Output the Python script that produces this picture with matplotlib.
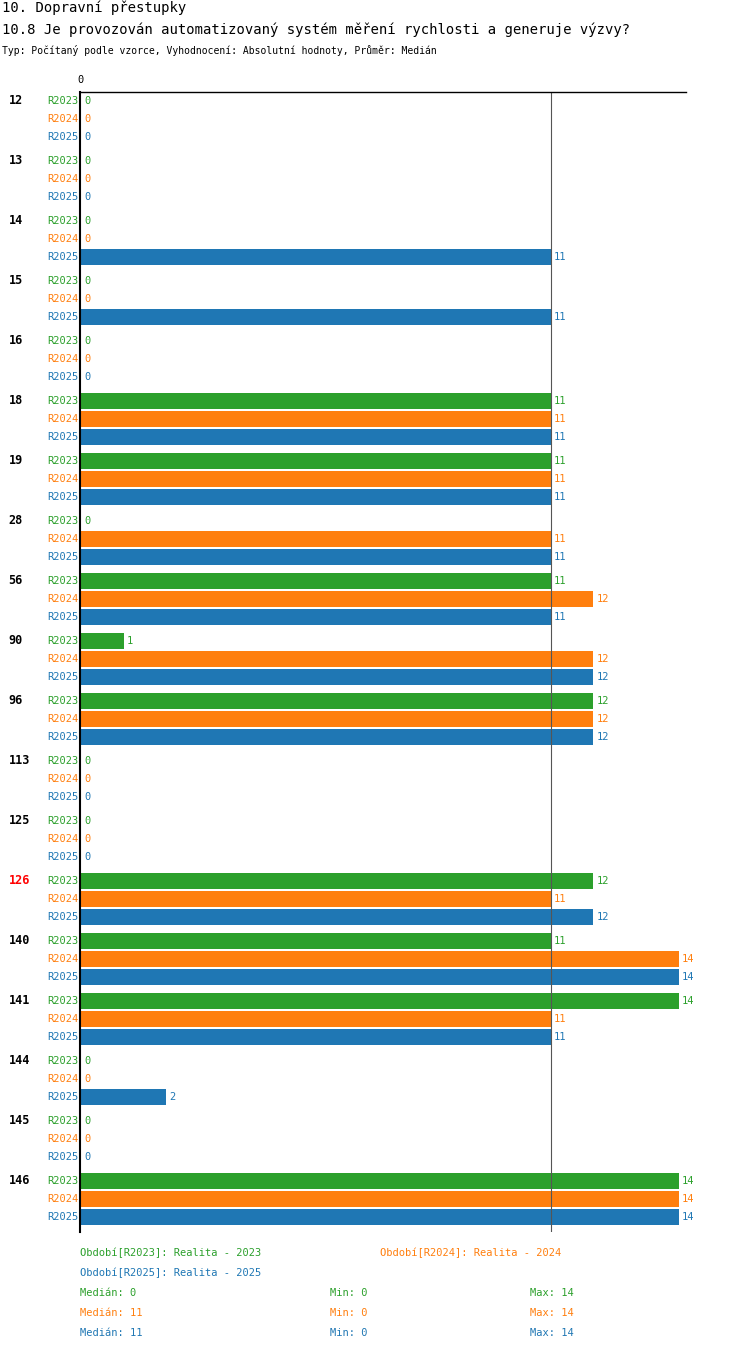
import matplotlib
matplotlib.use("Agg")
import matplotlib.pyplot as plt

plt.rcParams['font.family'] = ['DejaVu Sans Mono']

groups = ["12", "13", "14", "15", "16", "18", "19", "28", "56", "90", "96",
          "113", "125", "126", "140", "141", "144", "145", "146"]
series = ["R2023", "R2024", "R2025"]
colors = ["#2ca02c", "#ff7f0e", "#1f77b4"]
r2023 = [0, 0, 0, 0, 0, 11, 11, 0, 11, 1, 12, 0, 0, 12, 11, 14, 0, 0, 14]
r2024 = [0, 0, 0, 0, 0, 11, 11, 11, 12, 12, 12, 0, 0, 11, 14, 11, 0, 0, 14]
r2025 = [0, 0, 11, 11, 0, 11, 11, 11, 11, 12, 12, 0, 0, 12, 14, 11, 2, 0, 14]
values = [r2023, r2024, r2025]
highlight = "126"
median_line = 11

W, H = 750, 1352
fig = plt.figure(figsize=(W / 100, H / 100), dpi=100)
ax_left, ax_right, ax_top, ax_bot = 80, 686, 92, 1232
ax = fig.add_axes([ax_left / W, 1 - ax_bot / H, (ax_right - ax_left) / W, (ax_bot - ax_top) / H])
ax.set_xlim(-1 / 42.7, (ax_right - ax_left - 1) / 42.7)
ax.set_ylim(ax_bot - 101, ax_top - 101)

for g, name in enumerate(groups):
    for k in range(3):
        y = g * 60 + k * 18
        v = values[k][g]
        if v > 0:
            ax.barh(y, v, height=16, color=colors[k], left=0)
        ax.text(v + 0.07, y, str(v), color=colors[k], fontsize=7.5, va='center', ha='left')
        ax.text(-0.07, y, series[k], color=colors[k], fontsize=7.5, va='center', ha='right')
    ax.text(-1.7, g * 60, name, fontsize=8.5, weight='bold', va='center', ha='left',
            color='red' if name == highlight else 'black')

ax.axvline(median_line, color='#555555', lw=0.8)
for s in ['right', 'bottom']:
    ax.spines[s].set_visible(False)
ax.spines['left'].set_linewidth(1.5)
ax.spines['top'].set_linewidth(1)
ax.set_xticks([])
ax.set_yticks([])
fig.text(80 / W, 1 - 80 / H, "0", fontsize=7.5, ha='center', va='center')

fig.text(2 / W, 1 - 8 / H, "10. Dopravní přestupky", fontsize=10, va='center')
fig.text(2 / W, 1 - 30 / H, "10.8 Je provozován automatizovaný systém měření rychlosti a generuje výzvy?",
         fontsize=10, va='center')
fig.text(2 / W, 1 - 50 / H, "Typ: Počítaný podle vzorce, Vyhodnocení: Absolutní hodnoty, Průměr: Medián",
         fontsize=7, va='center')

def ft(x, y, s, c):
    fig.text(x / W, 1 - y / H, s, fontsize=7.5, color=c, va='center')

ft(80, 1253, "Období[R2023]: Realita - 2023", colors[0])
ft(380, 1253, "Období[R2024]: Realita - 2024", colors[1])
ft(80, 1273, "Období[R2025]: Realita - 2025", colors[2])
for k in range(3):
    vals = values[k]
    srt = sorted(vals)
    med = srt[len(srt) // 2]
    y = 1293 + 20 * k
    ft(80, y, "Medián: %d" % med, colors[k])
    ft(330, y, "Min: %d" % min(vals), colors[k])
    ft(530, y, "Max: %d" % max(vals), colors[k])

fig.savefig("out.png", dpi=100)
